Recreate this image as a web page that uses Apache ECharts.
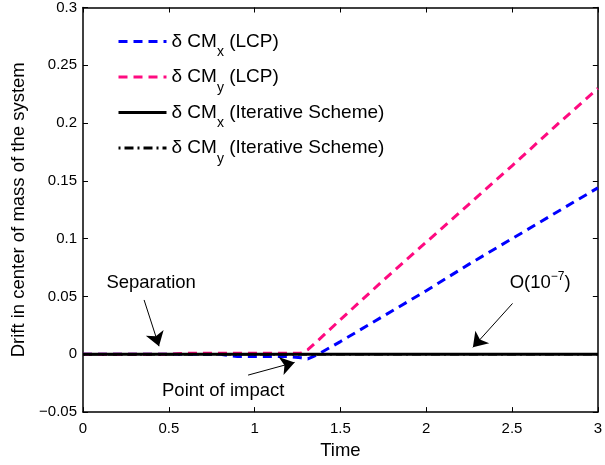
<!DOCTYPE html>
<html>
<head>
<meta charset="utf-8">
<script src="https://cdn.jsdelivr.net/npm/echarts@6/dist/echarts.min.js"></script>
<style>
  html, body { margin: 0; padding: 0; background: #fff; }
  #chart { width: 605px; height: 465px; }
</style>
</head>
<body>
<div id="chart"></div>
<script>
var FONT = "'Liberation Sans', Arial, Helvetica, sans-serif";

// time samples
var time = [0, 0.5, 0.6, 0.8, 0.9, 1.0, 1.2, 1.27, 1.31, 1.37, 1.5, 1.75, 2, 2.25, 2.5, 2.75, 3];
// drift of centre of mass, LCP model
var cmxLcp = [0, 0, 0, 0, -0.002, -0.002, -0.002, -0.003, -0.004, 0, 0.011, 0.033, 0.055, 0.078, 0.1, 0.122, 0.144];
var cmyLcp = [0, 0, 0.001, 0.001, 0.001, 0.001, 0.001, 0.001, 0.004, 0.012, 0.03, 0.064, 0.097, 0.13, 0.163, 0.197, 0.23];
// drift with the iterative scheme (order 1e-7)
var cmxIter = [0, 0, 0, 0, 0, 0, 0, 0, 0, 0, 0, 0, 0, 0, 0, 0, 0];
var cmyIter = [0, 0, 0, 0, 0, 0, 0, 0, 0, 0, 0, 0, 0, 0, 0, 0, 0];

var legendSub = ['x', 'y', 'x', 'y'];
var legendTail = [' (LCP)', ' (LCP)', ' (Iterative Scheme)', ' (Iterative Scheme)'];
var seriesNames = ['dCMx LCP', 'dCMy LCP', 'dCMx Iter', 'dCMy Iter'];

// annotation arrows: [from, to] in data units
var arrows = [
    [[0.356, 0.047], [0.443, 0.007]],
    [[2.503, 0.044], [2.272, 0.006]],
    [[0.962, -0.018], [1.233, -0.007]]
];
var notes = [
    {at: [0.397, 0.062], text: '{t|Separation}'},
    {at: [2.664, 0.062], text: '{t|O(10}{u|−7}{t|)}'},
    {at: [0.817, -0.032], text: '{t|Point of impact}'}
];

function pairs(ys) {
    var out = [];
    for (var i = 0; i < time.length; i++) out.push([time[i], ys[i]]);
    return out;
}

var chart = echarts.init(document.getElementById('chart'));

var axisCommon = {
    axisLine: {show: true, onZero: false, lineStyle: {color: '#000', width: 1.5}},
    axisTick: {show: true, inside: true, length: 5, lineStyle: {color: '#000', width: 1}},
    splitLine: {show: false}
};

var option = {
    animation: false,
    backgroundColor: '#fff',
    grid: {left: 83, right: 2, top: 4, bottom: 50},
    legend: {
        orient: 'vertical',
        left: 117,
        top: 32,
        padding: 0,
        itemGap: 8,
        itemWidth: 48,
        itemHeight: 14,
        selectedMode: false,
        data: seriesNames,
        itemStyle: {opacity: 0},
        lineStyle: {width: 3},
        formatter: function (name) {
            var i = seriesNames.indexOf(name);
            return '{m|δ CM}{s|' + legendSub[i] + '}{m|' + legendTail[i] + '}';
        },
        textStyle: {
            fontFamily: FONT,
            color: '#000',
            rich: {
                m: {fontSize: 19, fontFamily: FONT, color: '#000'},
                s: {fontSize: 14, fontFamily: FONT, color: '#000', padding: [22, 0, 0, 0]}
            }
        }
    },
    xAxis: [
        Object.assign({
            type: 'value', min: 0, max: 3, interval: 0.5,
            name: 'Time', nameLocation: 'middle', nameGap: 26,
            nameTextStyle: {fontFamily: FONT, fontSize: 18.5, color: '#000'},
            axisLabel: {fontFamily: FONT, fontSize: 15, color: '#000', margin: 9}
        }, axisCommon),
        Object.assign({
            type: 'value', min: 0, max: 3, interval: 0.5, position: 'top',
            axisLabel: {show: false}
        }, axisCommon)
    ],
    yAxis: [
        Object.assign({
            type: 'value', min: -0.05, max: 0.3, interval: 0.05,
            name: 'Drift in center of mass of the system', nameLocation: 'middle', nameGap: 52,
            nameTextStyle: {fontFamily: FONT, fontSize: 18.5, color: '#000'},
            axisLabel: {
                fontFamily: FONT, fontSize: 15, color: '#000', margin: 6,
                formatter: function (v) {
                    var s = String(Math.round(v * 1000) / 1000);
                    return s.replace('-', '−');
                }
            }
        }, axisCommon),
        Object.assign({
            type: 'value', min: -0.05, max: 0.3, interval: 0.05, position: 'right',
            axisLabel: {show: false}
        }, axisCommon)
    ],
    series: [
        {
            name: seriesNames[0], type: 'line', symbol: 'none', data: pairs(cmxLcp),
            lineStyle: {color: '#0000ff', width: 3, type: [9, 6]},
            itemStyle: {color: '#0000ff'}
        },
        {
            name: seriesNames[1], type: 'line', symbol: 'none', data: pairs(cmyLcp),
            lineStyle: {color: '#ff0a80', width: 3, type: [9, 6]},
            itemStyle: {color: '#ff0a80'}
        },
        {
            name: seriesNames[2], type: 'line', symbol: 'none', data: pairs(cmxIter),
            lineStyle: {color: '#000', width: 3, type: 'solid'},
            itemStyle: {color: '#000'},
            markLine: {
                silent: true,
                symbol: ['none', 'arrow'],
                symbolSize: 14,
                label: {show: false},
                lineStyle: {color: '#000', width: 1, type: 'solid'},
                data: arrows.map(function (a) {
                    return [{coord: a[0]}, {coord: a[1]}];
                })
            },
            markPoint: {
                silent: true,
                symbol: 'circle',
                symbolSize: 1,
                itemStyle: {color: 'rgba(0,0,0,0)'},
                data: notes.map(function (n) {
                    return {
                        coord: n.at,
                        label: {
                            show: true, position: 'inside', formatter: n.text,
                            rich: {
                                t: {fontFamily: FONT, fontSize: 18.5, color: '#000'},
                                u: {fontFamily: FONT, fontSize: 12, color: '#000', padding: [0, 0, 12, 0]}
                            }
                        }
                    };
                })
            }
        },
        {
            name: seriesNames[3], type: 'line', symbol: 'none', data: pairs(cmyIter),
            lineStyle: {color: '#000', width: 2.5, type: [2, 4, 9, 4]},
            itemStyle: {color: '#000'}
        }
    ]
};

chart.setOption(option);
</script>
</body>
</html>
